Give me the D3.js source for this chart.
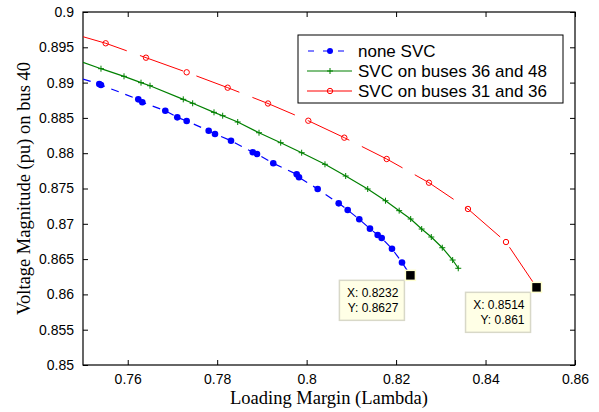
<!DOCTYPE html>
<html><head><meta charset="utf-8">
<script src="https://cdn.jsdelivr.net/npm/d3@7"></script>
<style>body{margin:0;background:#fff} svg{display:block}</style>
</head><body><svg id="c" width="599" height="412"></svg>
<script>
// ---- data ----
const xTicks = [0.76, 0.78, 0.80, 0.82, 0.84, 0.86];
const xTickLabels = ["0.76", "0.78", "0.8", "0.82", "0.84", "0.86"];
const yTicks = [0.85, 0.855, 0.86, 0.865, 0.87, 0.875, 0.88, 0.885, 0.89, 0.895, 0.9];
const yTickLabels = ["0.85", "0.855", "0.86", "0.865", "0.87", "0.875", "0.88", "0.885", "0.89", "0.895", "0.9"];
const seriesNames = ["none SVC", "SVC on buses 36 and 48", "SVC on buses 31 and 36"];

const noneX = [0.75, 0.75364, 0.75402, 0.76236, 0.76326, 0.7684, 0.77108, 0.77318, 0.7781, 0.77951, 0.78309, 0.78796, 0.7889, 0.79254, 0.79778, 0.79829, 0.80247, 0.80717, 0.80918, 0.81177, 0.81416, 0.81588, 0.81678, 0.81908, 0.82132, 0.8232];
const noneY = [0.89051, 0.8898, 0.88966, 0.88763, 0.88721, 0.88602, 0.88508, 0.88456, 0.88319, 0.88272, 0.88177, 0.88014, 0.87989, 0.87857, 0.87701, 0.87659, 0.87493, 0.8729, 0.87195, 0.87064, 0.86931, 0.86841, 0.86799, 0.86647, 0.86452, 0.8627];

const svc3648X = [0.75, 0.75402, 0.75917, 0.76297, 0.76498, 0.77242, 0.77452, 0.77929, 0.78123, 0.78459, 0.78935, 0.7942, 0.79889, 0.8041, 0.80873, 0.81365, 0.81763, 0.82069, 0.82326, 0.82572, 0.82787, 0.83033, 0.83265, 0.8339];
const svc3648Y = [0.89288, 0.89197, 0.89089, 0.88999, 0.88956, 0.88763, 0.88707, 0.88579, 0.88531, 0.88442, 0.8829, 0.88149, 0.88007, 0.87843, 0.87677, 0.87493, 0.87327, 0.87186, 0.87068, 0.86926, 0.86813, 0.86661, 0.86487, 0.8637];

const svc3136X = [0.75, 0.75507, 0.76408, 0.77318, 0.78235, 0.79136, 0.80037, 0.80842, 0.8179, 0.82735, 0.83607, 0.84457, 0.8514];
const svc3136Y = [0.8965, 0.89557, 0.89353, 0.89146, 0.88928, 0.88704, 0.8846, 0.8822, 0.87918, 0.87582, 0.8721, 0.86742, 0.861];

const tipX = [0.8232, 0.8514];
const tipY = [0.8627, 0.861];
const tipXLabels = ["X: 0.8232", "X: 0.8514"];
const tipYLabels = ["Y: 0.8627", "Y: 0.861"];

// ---- layout ----
const svg = d3.select("#c");
const L = 83, R = 575, T = 12, B = 365;
const x = d3.scaleLinear().domain([0.75, 0.86]).range([L, R]);
const y = d3.scaleLinear().domain([0.85, 0.9]).range([B, T]);

svg.append("defs").append("clipPath").attr("id", "clip")
  .append("rect").attr("x", L).attr("y", T).attr("width", R - L).attr("height", B - T);

const sans = "Liberation Sans, Arial, Helvetica, sans-serif";
const serif = "Liberation Serif, Times New Roman, serif";

// axes (box with inward ticks)
const gx = svg.append("g").attr("transform", `translate(0,${B})`)
  .call(d3.axisBottom(x).tickValues(xTicks).tickSizeInner(-5).tickSizeOuter(0).tickPadding(9)
    .tickFormat((d, i) => xTickLabels[i]));
const gxt = svg.append("g").attr("transform", `translate(0,${T})`)
  .call(d3.axisTop(x).tickValues(xTicks).tickSizeInner(-5).tickSizeOuter(0).tickFormat(""));
const gy = svg.append("g").attr("transform", `translate(${L},0)`)
  .call(d3.axisLeft(y).tickValues(yTicks).tickSizeInner(-5).tickSizeOuter(0).tickPadding(9)
    .tickFormat((d, i) => yTickLabels[i]));
const gyr = svg.append("g").attr("transform", `translate(${R},0)`)
  .call(d3.axisRight(y).tickValues(yTicks).tickSizeInner(-5).tickSizeOuter(0).tickFormat(""));
[gx, gxt, gy, gyr].forEach(g => {
  g.select(".domain").remove();
  g.selectAll("line").attr("stroke", "#000").attr("stroke-width", 1);
  g.selectAll("text").attr("font-family", sans).attr("font-size", "14px").attr("fill", "#000");
});
svg.append("rect").attr("x", L).attr("y", T).attr("width", R - L).attr("height", B - T)
  .attr("fill", "none").attr("stroke", "#000").attr("stroke-width", 1.2);

// axis labels
svg.append("text").attr("x", (L + R) / 2).attr("y", 404).attr("text-anchor", "middle")
  .attr("font-family", serif).attr("font-size", "18.5px").text("Loading Margin (Lambda)");
svg.append("text").attr("transform", `translate(30,${(T + B) / 2}) rotate(-90)`).attr("text-anchor", "middle")
  .attr("font-family", serif).attr("font-size", "18.5px").text("Voltage Magnitude (pu) on bus 40");

// series
const plot = svg.append("g").attr("clip-path", "url(#clip)");
const line = d3.line().x(d => x(d[0])).y(d => y(d[1]));
const zip = (a, b) => a.map((v, i) => [v, b[i]]);

const red = zip(svc3136X, svc3136Y);
const green = zip(svc3648X, svc3648Y);
const blue = zip(noneX, noneY);

plot.append("path").datum(red).attr("d", line).attr("fill", "none").attr("stroke", "#ff0000")
  .attr("stroke-width", 1).attr("stroke-dasharray", "46,14");
plot.selectAll(".rm").data(red.slice(1)).enter().append("circle")
  .attr("cx", d => x(d[0])).attr("cy", d => y(d[1])).attr("r", 2.7)
  .attr("fill", "none").attr("stroke", "#ff0000").attr("stroke-width", 1);

plot.append("path").datum(green).attr("d", line).attr("fill", "none").attr("stroke", "#008000").attr("stroke-width", 1.2);
const plus = d3.symbol().type(d3.symbolCross);
plot.selectAll(".gm").data(green.slice(1)).enter().append("path")
  .attr("d", d => `M${x(d[0]) - 3},${y(d[1])}h6M${x(d[0])},${y(d[1]) - 3}v6`)
  .attr("stroke", "#008000").attr("stroke-width", 1);

plot.append("path").datum(blue).attr("d", line).attr("fill", "none").attr("stroke", "#0000ff")
  .attr("stroke-width", 1.2).attr("stroke-dasharray", "8,7");
plot.selectAll(".bm").data(blue.slice(1)).enter().append("circle")
  .attr("cx", d => x(d[0])).attr("cy", d => y(d[1])).attr("r", 3.3).attr("fill", "#0000ff");

// legend
const lg = svg.append("g");
lg.append("rect").attr("x", 298).attr("y", 35).attr("width", 265).attr("height", 68)
  .attr("fill", "#fff").attr("stroke", "#000").attr("stroke-width", 1);
const rowsY = [51, 71, 91];
const lcol = ["#0000ff", "#008000", "#ff0000"];
rowsY.forEach((ry, i) => {
  const l = lg.append("line").attr("x1", 307).attr("x2", 352).attr("y1", ry).attr("y2", ry)
    .attr("stroke", lcol[i]).attr("stroke-width", 1.2);
  if (i === 0) l.attr("stroke-dasharray", "6,9").attr("stroke-dashoffset", -1);
  if (i === 0) lg.append("circle").attr("cx", 330).attr("cy", ry).attr("r", 3).attr("fill", lcol[i]);
  if (i === 1) lg.append("path").attr("d", `M327,${ry}h6M330,${ry - 3}v6`).attr("stroke", lcol[i]);
  if (i === 2) lg.append("circle").attr("cx", 330).attr("cy", ry).attr("r", 2.7).attr("fill", "none").attr("stroke", lcol[i]);
  lg.append("text").attr("x", 358).attr("y", ry + 6).attr("font-family", sans).attr("font-size", "17px")
    .text(seriesNames[i]);
});

// data tips
tipX.forEach((tx, i) => {
  const px = x(tx), py = y(tipY[i]);
  const g = svg.append("g");
  g.append("rect").attr("x", px - 71).attr("y", py + 5).attr("width", 65).attr("height", 40)
    .attr("fill", "#ffffe6").attr("stroke", "#d8d8c8").attr("stroke-width", 1.5);
  g.append("text").attr("x", px - 12).attr("y", py + 22).attr("text-anchor", "end")
    .attr("font-family", sans).attr("font-size", "12px").text(tipXLabels[i]);
  g.append("text").attr("x", px - 12).attr("y", py + 37).attr("text-anchor", "end")
    .attr("font-family", sans).attr("font-size", "12px").text(tipYLabels[i]);
  g.append("rect").attr("x", px - 5).attr("y", py - 5).attr("width", 10).attr("height", 10)
    .attr("fill", "#000").attr("stroke", "#ffffd0").attr("stroke-width", 1.5);
});
</script></body></html>
